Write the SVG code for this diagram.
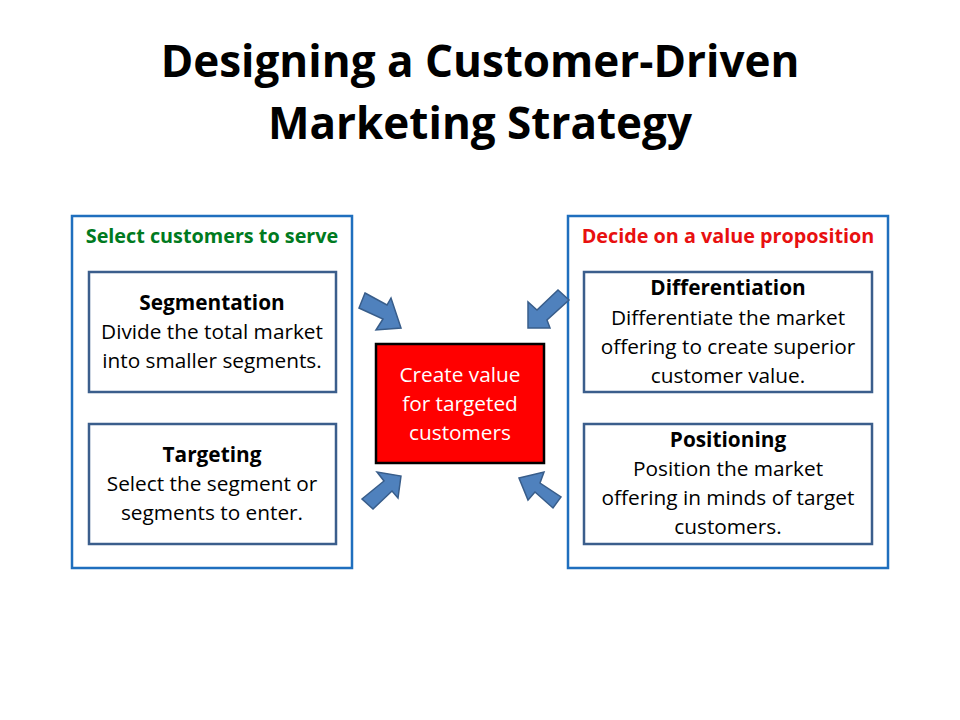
<svg xmlns="http://www.w3.org/2000/svg" width="960" height="720" viewBox="0 0 960 720">
<style>
text{font-family:"Open Sans","Liberation Sans",sans-serif;text-anchor:middle}
.title{font-size:44px;font-weight:bold;fill:#000}
.hdr{font-size:19.8px;font-weight:bold}
.outer{fill:#fff;stroke:#1f6fbe;stroke-width:2.5}
.inner{fill:#fff;stroke:#3b5e8c;stroke-width:2.5}
.h{font-size:20.8px;font-weight:bold;fill:#000}
.b{font-size:20.8px;fill:#000}
.w{font-size:20.8px;fill:#fff}
.arr{fill:#4f81bd;stroke:#385d8a;stroke-width:1.5;stroke-linejoin:miter}
</style>
<rect width="960" height="720" fill="#fff"/>
<g id="title">
<text class="title" x="480" y="77">Designing a Customer-Driven</text>
<text class="title" x="480" y="139">Marketing Strategy</text>
</g>
<g id="select-group">
<rect class="outer" x="72" y="216" width="280" height="352"/>
<text class="hdr" x="212" y="243" fill="#007a20">Select customers to serve</text>
</g>
<g id="decide-group">
<rect class="outer" x="568" y="216" width="320" height="352"/>
<text class="hdr" x="728" y="243" fill="#e81010">Decide on a value proposition</text>
</g>
<g id="segmentation">
<rect class="inner" x="89" y="272" width="247" height="120"/>
<text class="h" x="212" y="310">Segmentation</text>
<text class="b" x="212" y="339">Divide the total market</text>
<text class="b" x="212" y="368">into smaller segments.</text>
</g>
<g id="targeting">
<rect class="inner" x="89" y="424" width="247" height="120"/>
<text class="h" x="212" y="462">Targeting</text>
<text class="b" x="212" y="491">Select the segment or</text>
<text class="b" x="212" y="520">segments to enter.</text>
</g>
<g id="differentiation">
<rect class="inner" x="584" y="272" width="288" height="120"/>
<text class="h" x="728" y="295">Differentiation</text>
<text class="b" x="728" y="325">Differentiate the market</text>
<text class="b" x="728" y="354">offering to create superior</text>
<text class="b" x="728" y="383">customer value.</text>
</g>
<g id="positioning">
<rect class="inner" x="584" y="424" width="288" height="120"/>
<text class="h" x="728" y="447">Positioning</text>
<text class="b" x="728" y="476">Position the market</text>
<text class="b" x="728" y="505">offering in minds of target</text>
<text class="b" x="728" y="534">customers.</text>
</g>
<g id="create-value">
<rect x="376" y="344" width="168" height="119" fill="#ff0000" stroke="#000" stroke-width="2.5"/>
<text class="w" x="460" y="382">Create value</text>
<text class="w" x="460" y="411">for targeted</text>
<text class="w" x="460" y="440">customers</text>
</g>
<g id="connectors">
<polygon class="arr" points="365,293 387,305 391,298 401,328 376,330 383,319 359,308"/>
<polygon class="arr" points="528,328 528,302 537,310 558,290 569,300 547,320 550,328"/>
<polygon class="arr" points="401,476 398,498 392,491 373,509 362,499 384,481 377,472"/>
<polygon class="arr" points="519,478 544,472 540,483 561,497 553,508 535,492 528,500"/>
</g>
</svg>
